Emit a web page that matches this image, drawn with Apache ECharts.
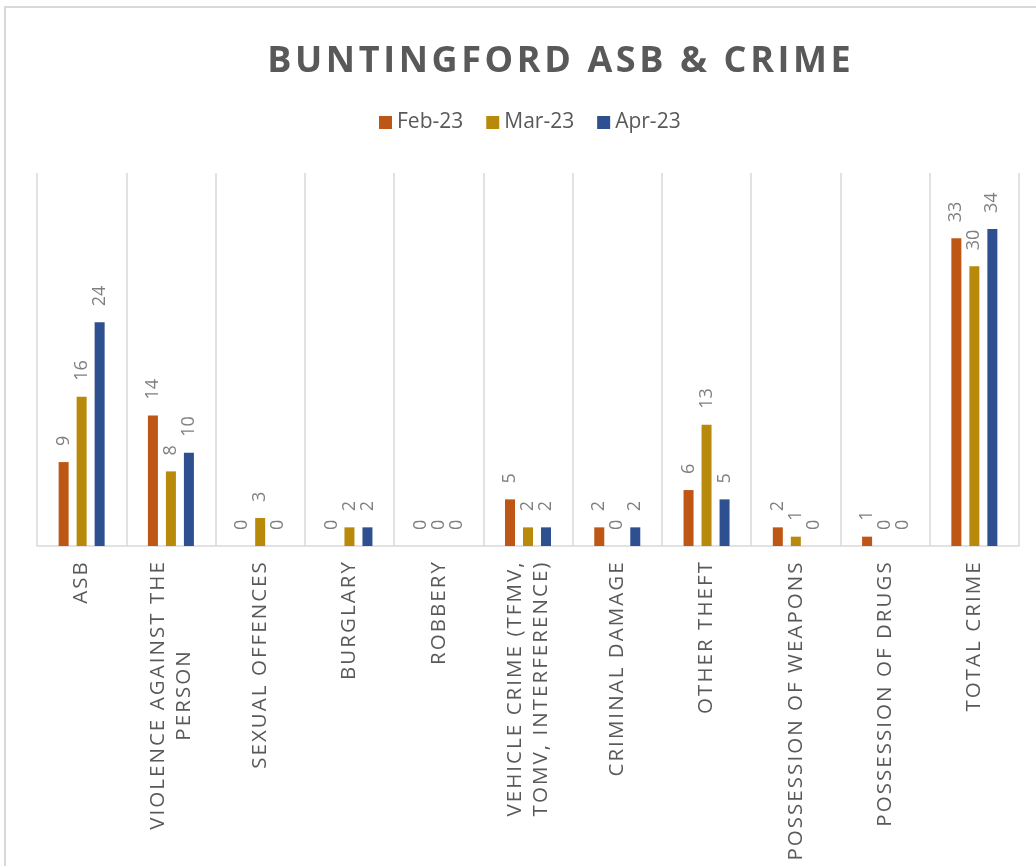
<!DOCTYPE html>
<html>
<head>
<meta charset="utf-8">
<script src="https://cdn.jsdelivr.net/npm/echarts@6/dist/echarts.min.js"></script>
<style>
  html, body { margin: 0; padding: 0; background: #fff; }
  #chart { width: 1036px; height: 866px; }
</style>
</head>
<body>
<div id="chart"></div>
<script>
const categories = [
  'ASB',
  'VIOLENCE AGAINST THE\nPERSON',
  'SEXUAL OFFENCES',
  'BURGLARY',
  'ROBBERY',
  'VEHICLE CRIME (TFMV,\nTOMV, INTERFERENCE)',
  'CRIMINAL DAMAGE',
  'OTHER THEFT',
  'POSSESSION OF WEAPONS',
  'POSSESSION OF DRUGS',
  'TOTAL CRIME'
]
const feb23 = [9, 14, 0, 0, 0, 5, 2, 6, 2, 1, 33]
const mar23 = [16, 8, 3, 2, 0, 2, 0, 13, 1, 0, 30]
const apr23 = [24, 10, 0, 2, 0, 2, 2, 5, 0, 0, 34]

// excel-ish letter spacing, done with hair spaces
const spaced = s => s.split('').join('\u200A')

const labelSize = 20.5
const ctx = document.createElement('canvas').getContext('2d')
ctx.font = labelSize + 'px "Open Sans"'
const rich = {}
categories.forEach((c, i) => {
  const lines = c.split('\n').map(spaced)
  const w = Math.max(...lines.map(l => ctx.measureText(l).width))
  rich['w' + i] = { width: Math.ceil(w), align: 'center', color: '#595959',
    fontSize: labelSize, fontFamily: 'Open Sans', lineHeight: 26 }
})

function barLabel() {
  return {
    show: true,
    position: 'top',
    rotate: 90,
    align: 'left',
    verticalAlign: 'middle',
    distance: 16,
    color: '#7f7f7f',
    fontSize: 18,
    fontFamily: 'Open Sans'
  }
}

const chart = echarts.init(document.getElementById('chart'))
chart.setOption({
  backgroundColor: '#fff',
  animation: false,
  title: {
    text: spaced('BUNTINGFORD ASB & CRIME'),
    left: 554,
    top: 39,
    textAlign: 'center',
    textStyle: { color: '#595959', fontSize: 36, fontWeight: 'bold', fontFamily: 'Open Sans' }
  },
  legend: {
    data: ['Feb-23', 'Mar-23', 'Apr-23'],
    left: 374,
    top: 107,
    icon: 'rect',
    itemWidth: 13,
    itemHeight: 13,
    itemGap: 23,
    textStyle: { color: '#595959', fontSize: 21, fontFamily: 'Open Sans' }
  },
  grid: { left: 37, right: 17, top: 173, bottom: 320, outerBoundsMode: 'none', containLabel: false },
  xAxis: {
    type: 'category',
    data: categories,
    axisLine: { lineStyle: { color: '#d9d9d9', width: 1.5 } },
    axisTick: { show: false },
    splitLine: { show: true, lineStyle: { color: '#d9d9d9', width: 1.5 } },
    axisLabel: {
      interval: 0,
      rotate: 90,
      margin: 16,
      rich: rich,
      formatter: (v, i) => v.split('\n').map(l => '{w' + i + '|' + spaced(l) + '}').join('\n')
    }
  },
  yAxis: {
    type: 'value',
    min: 0,
    max: 40,
    show: false,
    splitLine: { show: false }
  },
  series: [
    { name: 'Feb-23', type: 'bar', data: feb23, barWidth: 10, barGap: '80%',
      itemStyle: { color: '#BE5616' }, label: barLabel() },
    { name: 'Mar-23', type: 'bar', data: mar23, barWidth: 10, barGap: '80%',
      itemStyle: { color: '#B8890A' }, label: barLabel() },
    { name: 'Apr-23', type: 'bar', data: apr23, barWidth: 10, barGap: '80%',
      itemStyle: { color: '#2E5090' }, label: barLabel() }
  ],
  graphic: [{
    type: 'rect',
    shape: { x: 5, y: 7, width: 1040, height: 880 },
    style: { fill: null, stroke: '#d9d9d9', lineWidth: 2 },
    silent: true
  }]
})
</script>
</body>
</html>
